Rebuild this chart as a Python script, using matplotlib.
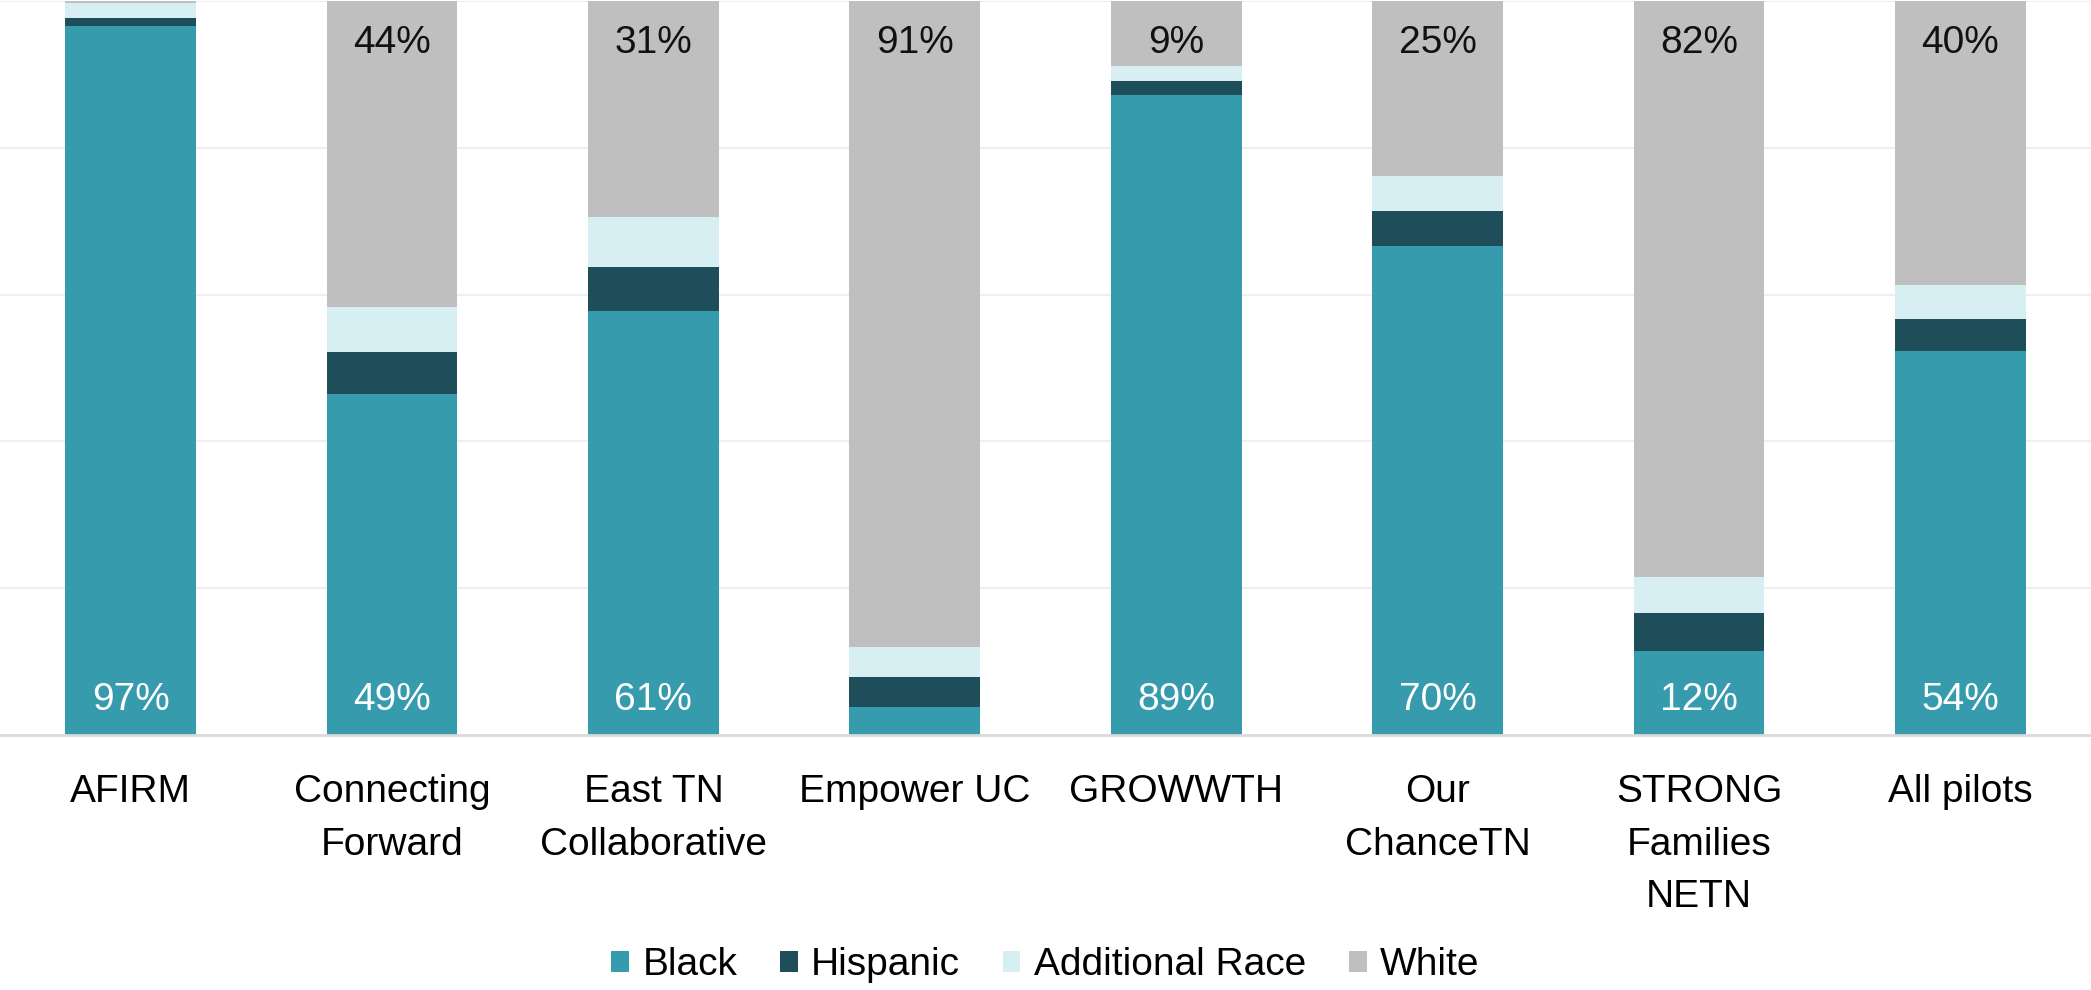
import matplotlib
matplotlib.use("Agg")
import matplotlib.pyplot as plt
import numpy as np

plt.rcParams["font.family"] = ["Liberation Sans", "DejaVu Sans"]

# values as reported (percent); groups overlap so a bar can total a bit over 100
sites = ["AFIRM", "Connecting\nForward", "East TN\nCollaborative", "Empower UC", "GROWWTH",
         "Our\nChanceTN", "STRONG\nFamilies\nNETN", "All pilots"]
black = [97, 49, 61, 3.9, 89, 70, 12, 54]
hispanic = [1.1, 6.1, 6.3, 4.3, 1.95, 5.0, 5.4, 4.5]
additional = [2.0, 6.5, 7.2, 4.2, 2.2, 5.1, 5.1, 4.8]
white = [0.3, 44, 31, 91, 9, 25, 82, 40]
black_lbl = ["97%", "49%", "61%", "", "89%", "70%", "12%", "54%"]
white_lbl = ["", "44%", "31%", "91%", "9%", "25%", "82%", "40%"]

series = [("Black", black, "#379BAE"), ("Hispanic", hispanic, "#1F4E5B"),
          ("Additional Race", additional, "#D7EEF2"), ("White", white, "#BFBFBF")]

tot = np.sum([black, hispanic, additional, white], axis=0)
x = np.arange(len(sites))

fig = plt.figure(figsize=(20.91, 9.9), dpi=100)
ax = fig.add_axes([0.0, 0.2576, 1.0, 0.7414])
bottom = np.zeros(len(sites))
for name, vals, col in series:
    share = np.array(vals) / tot
    ax.bar(x, share, 0.5, bottom=bottom, color=col, label=name, zorder=2)
    bottom += share

fs = 28
for i in range(len(sites)):
    if black_lbl[i]:
        ax.annotate(black_lbl[i], (x[i], 0), textcoords="offset points", xytext=(0, 25),
                    ha="center", va="center", fontsize=fs, color="white")
    if white_lbl[i]:
        ax.annotate(white_lbl[i], (x[i], 1), textcoords="offset points", xytext=(0, -30),
                    ha="center", va="center", fontsize=fs, color="#111111")

ax.set_xlim(-0.5, 7.5); ax.set_ylim(0, 1)
ax.set_yticks([0.2, 0.4, 0.6, 0.8, 1.0])
ax.grid(axis="y", color="#EFEFEF", lw=1.5, zorder=0)
ax.tick_params(axis="y", left=False, labelleft=False)
ax.set_xticks(x)
ax.set_xticklabels(sites, fontsize=fs, linespacing=1.6, va="top")
ax.tick_params(axis="x", length=0, pad=28)
for s in ["top", "left", "right"]:
    ax.spines[s].set_visible(False)
ax.spines["bottom"].set_color("#D9D9D9"); ax.spines["bottom"].set_linewidth(2)

fig.legend(loc="center", bbox_to_anchor=(0.5, 0.025), ncol=4, frameon=False, fontsize=fs,
           handlelength=0.45, handleheight=0.45, handletextpad=0.35, columnspacing=1.1)
fig.savefig("out.png", dpi=100)
